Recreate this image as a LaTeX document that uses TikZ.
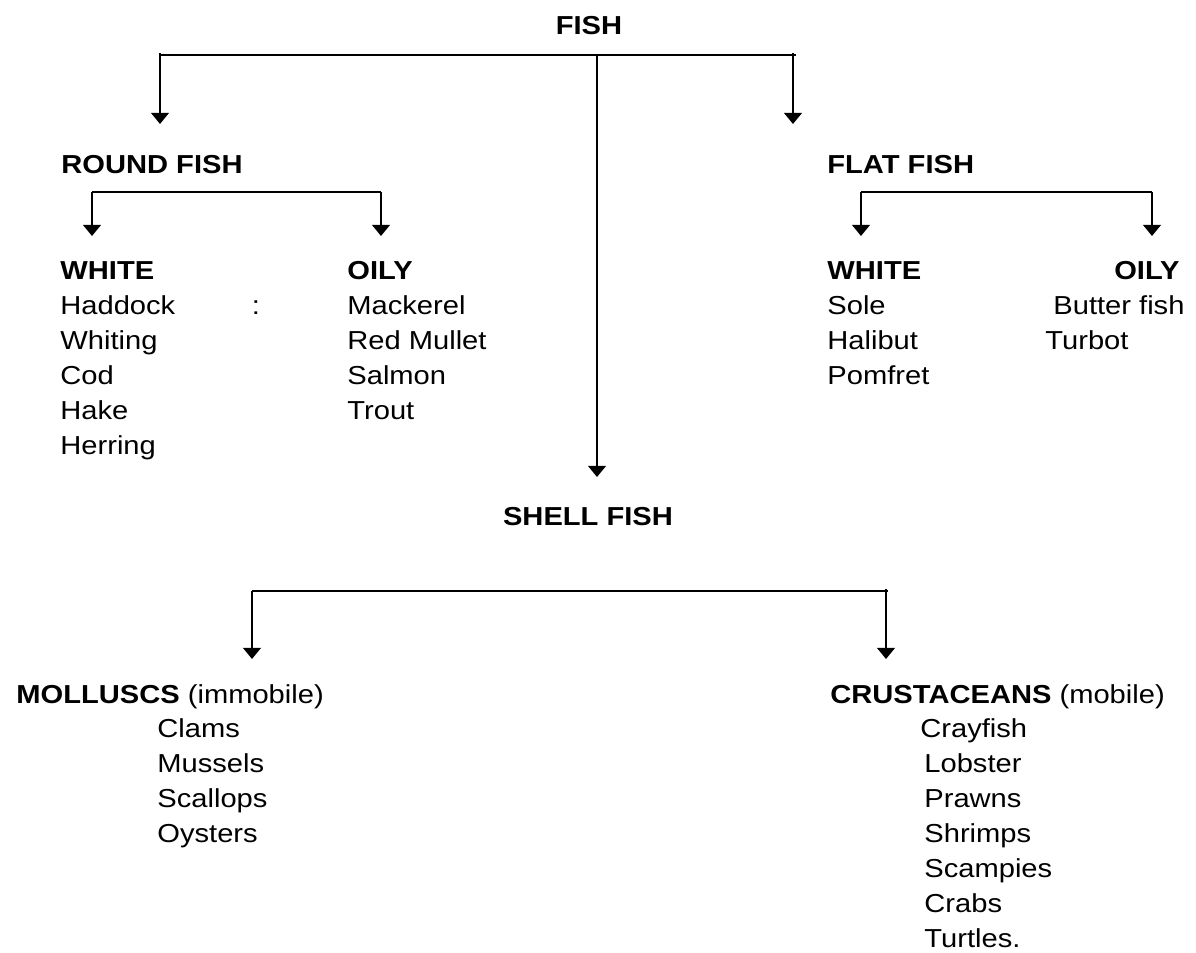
\documentclass[tikz,border=0pt]{standalone}
\usepackage{fontspec}
\setmainfont{Liberation Sans}[FakeStretch=1.12]
\usetikzlibrary{arrows.meta,positioning}

\begin{document}
\begin{tikzpicture}[
  x=0.5pt, y=-0.5pt,
  head/.style={font=\bfseries\fontsize{13}{17.5}\selectfont, inner sep=0pt},
  item/.style={font=\fontsize{13}{17.5}\selectfont, inner sep=0pt,
               align=left, anchor=north west},
  bar/.style={line width=0.7pt, draw=black},
  arr/.style={bar, -{Triangle[width=9pt, length=5.6pt]}}
]
\useasboundingbox (0,0) rectangle (1196,953);

% --- Top: all fish ---
\node[head, anchor=base] (fish) at (589,34) {FISH};

% --- Three groups ---
\node[head, anchor=base west] (round) at (61,173) {ROUND FISH};
\node[head, anchor=base west] (flat) at (827,173) {FLAT FISH};
\node[head, anchor=base] (shell) at (588,525) {SHELL FISH};

% --- Round fish: white and oily ---
\node[item] (rwhite) at (60,254.5)
  {\strut\textbf{WHITE}\\Haddock\\Whiting\\Cod\\Hake\\Herring};
\node[item, anchor=base] (rcolon) at (256,314) {:};
\node[item] (roily) at (347,254.5)
  {\strut\textbf{OILY}\\Mackerel\\Red Mullet\\Salmon\\Trout};

% --- Flat fish: white and oily ---
\node[item] (fwhite) at (827,254.5)
  {\strut\textbf{WHITE}\\Sole\\Halibut\\Pomfret};
\node[head, anchor=base east] (foily) at (1180,279) {OILY};
\node[item] (foilylist) at (1045,289.5)
  {\strut\hspace*{4pt}Butter fish\\Turbot};

% --- Shell fish: molluscs and crustaceans ---
\node[item, anchor=base west] (moll) at (16,703)
  {\textbf{MOLLUSCS} (immobile)};
\node[item] (molllist) at (157,712.5)
  {\strut Clams\\Mussels\\Scallops\\Oysters};
\node[item, anchor=base west] (crust) at (830,703)
  {\textbf{CRUSTACEANS} (mobile)};
\node[item] (crustlist) at (924,712.5)
  {\strut\hspace*{-2pt}Crayfish\\Lobster\\Prawns\\Shrimps\\Scampies\\Crabs\\Turtles.};

% --- Bars and arrow ends ---
\coordinate (fishL) at (160,55);
\coordinate (fishM) at (597,55);
\coordinate (fishR) at (796,55);
\coordinate (roundin) at (160,124);
\coordinate (flatin) at (793,124);
\coordinate (shellin) at (597,477);

\coordinate (roundL) at (92,192);
\coordinate (roundR) at (381,192);
\coordinate (rwhitein) at (92,236);
\coordinate (roilyin) at (381,236);

\coordinate (flatL) at (861,192);
\coordinate (flatR) at (1152,192);
\coordinate (fwhitein) at (861,236);
\coordinate (foilyin) at (1152,236);

\coordinate (shellL) at (252,591);
\coordinate (shellR) at (888,591);
\coordinate (mollin) at (252,659);
\coordinate (crustin) at (886,659);

% --- Arrows ---
\draw[bar] (fishL) -- (fishR);
\draw[arr] ([yshift=1pt]fishL) -- (roundin);
\draw[arr] (flatin |- fishR) ++(0,-2) -- (flatin);
\draw[arr] (fishM) -- (shellin);

\draw[bar] (roundL) -- (roundR);
\draw[arr] (roundL) -- (rwhitein);
\draw[arr] (roundR) -- (roilyin);

\draw[bar] (flatL) -- (flatR);
\draw[arr] (flatL) -- (fwhitein);
\draw[arr] (flatR) -- (foilyin);

\draw[bar] (shellL) -- (shellR);
\draw[arr] (shellL) -- (mollin);
\draw[arr] (crustin |- shellR) ++(0,-2) -- (crustin);
\end{tikzpicture}
\end{document}
